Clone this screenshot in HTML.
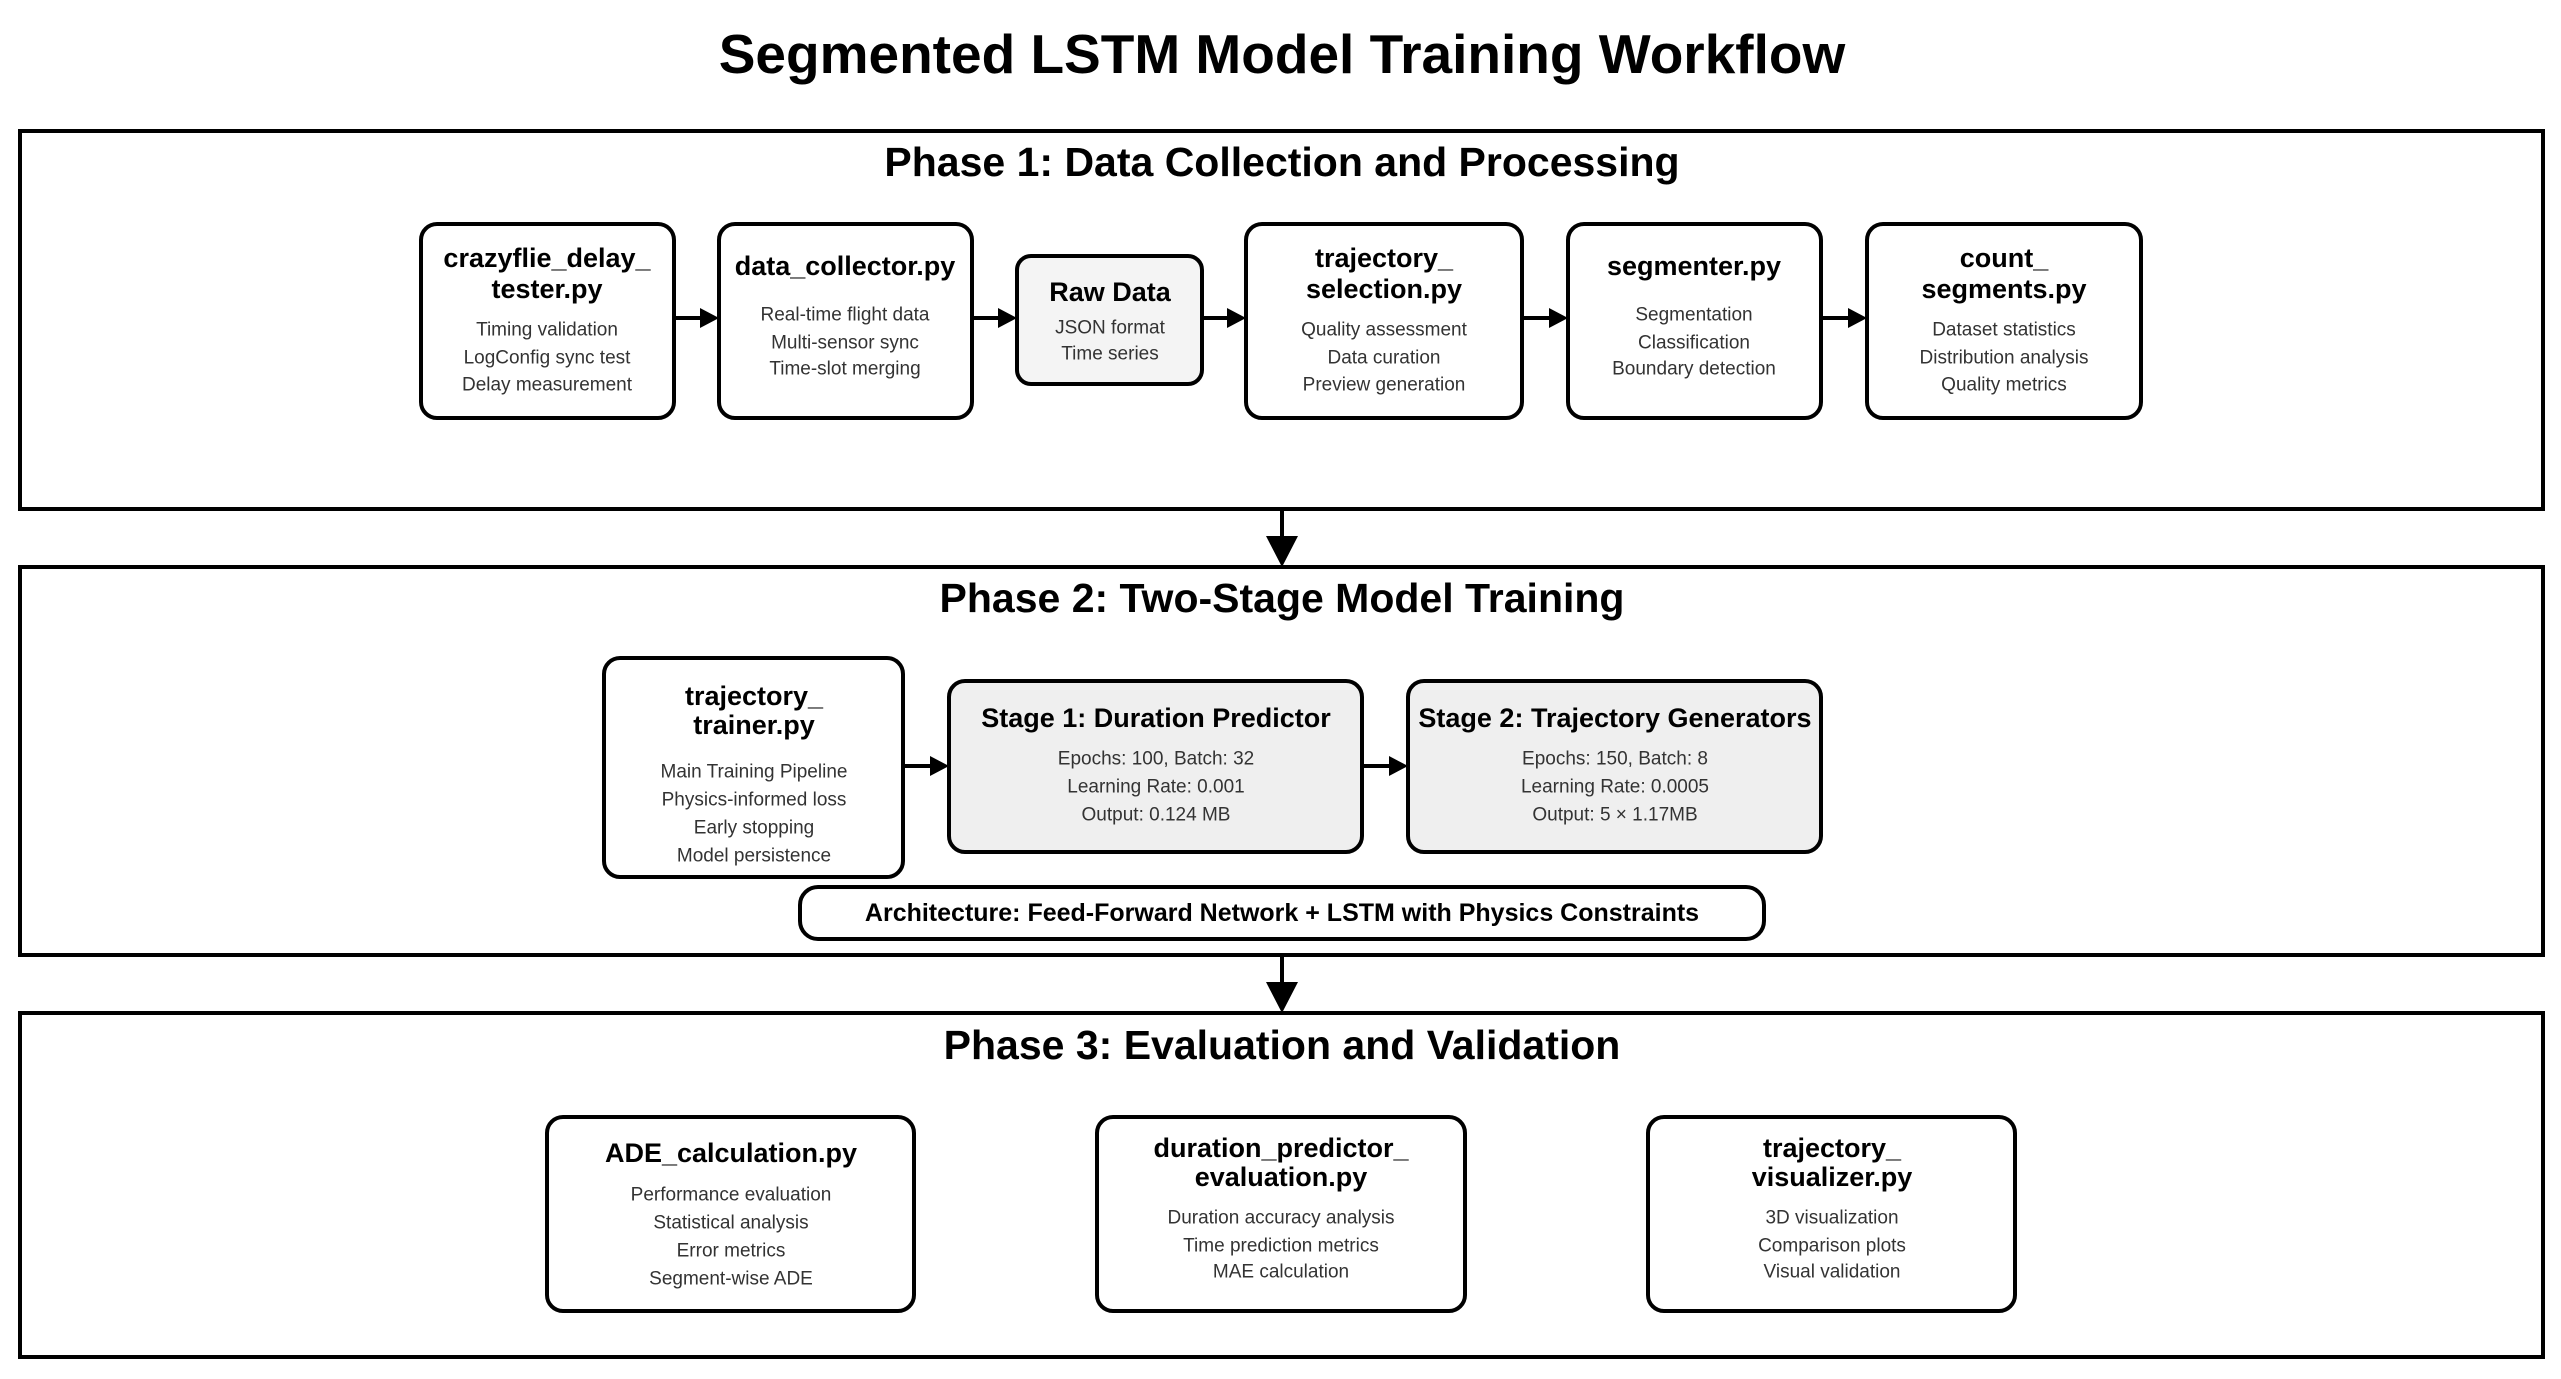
<!DOCTYPE html>
<html><head><meta charset="utf-8"><style>
html,body{margin:0;padding:0;background:#fff;}
svg{display:block;}
text{font-family:"Liberation Sans",Arial,sans-serif;text-anchor:middle;dominant-baseline:central;}
.t{font-weight:bold;font-size:27px;fill:#000;}
.d{font-size:19px;fill:#333;}
.p{font-weight:bold;font-size:41px;fill:#000;}
.n{fill:#fff;stroke:#000;stroke-width:4;}
.g{fill:#efefef;stroke:#000;stroke-width:4;}
.ph{fill:none;stroke:#000;stroke-width:4;}
.a{stroke:#000;stroke-width:4;}
</style></head><body>
<svg width="2561" height="1379" viewBox="0 0 2561 1379" xmlns="http://www.w3.org/2000/svg">
<text x="1282" y="54" style="font-weight:bold;font-size:55px">Segmented LSTM Model Training Workflow</text>

<!-- Phase 1 -->
<rect class="ph" x="20" y="131" width="2523" height="378"/>
<text class="p" x="1282" y="162">Phase 1: Data Collection and Processing</text>
<rect class="n" x="421" y="224" width="253" height="194" rx="16"/>
<text class="t" x="547" y="258">crazyflie_delay_</text><text class="t" x="547" y="289">tester.py</text>
<text class="d" x="547" y="330">Timing validation</text><text class="d" x="547" y="358">LogConfig sync test</text><text class="d" x="547" y="385">Delay measurement</text>

<rect class="n" x="719" y="224" width="253" height="194" rx="16"/>
<text class="t" x="845" y="266">data_collector.py</text>
<text class="d" x="845" y="315">Real-time flight data</text><text class="d" x="845" y="343">Multi-sensor sync</text><text class="d" x="845" y="369">Time-slot merging</text>

<rect class="g" x="1017" y="256" width="185" height="128" rx="14" style="fill:#f4f4f4"/>
<text class="t" x="1110" y="292">Raw Data</text>
<text class="d" x="1110" y="328">JSON format</text><text class="d" x="1110" y="354">Time series</text>

<rect class="n" x="1246" y="224" width="276" height="194" rx="16"/>
<text class="t" x="1384" y="258">trajectory_</text><text class="t" x="1384" y="289">selection.py</text>
<text class="d" x="1384" y="330">Quality assessment</text><text class="d" x="1384" y="358">Data curation</text><text class="d" x="1384" y="385">Preview generation</text>

<rect class="n" x="1568" y="224" width="253" height="194" rx="16"/>
<text class="t" x="1694" y="266">segmenter.py</text>
<text class="d" x="1694" y="315">Segmentation</text><text class="d" x="1694" y="343">Classification</text><text class="d" x="1694" y="369">Boundary detection</text>

<rect class="n" x="1867" y="224" width="274" height="194" rx="16"/>
<text class="t" x="2004" y="258">count_</text><text class="t" x="2004" y="289">segments.py</text>
<text class="d" x="2004" y="330">Dataset statistics</text><text class="d" x="2004" y="358">Distribution analysis</text><text class="d" x="2004" y="385">Quality metrics</text>

<g>
<line class="a" x1="674" y1="318" x2="702" y2="318"/><polygon points="700,308 719,318 700,328"/>
<line class="a" x1="972" y1="318" x2="1000" y2="318"/><polygon points="998,308 1017,318 998,328"/>
<line class="a" x1="1202" y1="318" x2="1229" y2="318"/><polygon points="1227,308 1246,318 1227,328"/>
<line class="a" x1="1522" y1="318" x2="1551" y2="318"/><polygon points="1549,308 1568,318 1549,328"/>
<line class="a" x1="1821" y1="318" x2="1850" y2="318"/><polygon points="1848,308 1867,318 1848,328"/>
</g>

<line class="a" x1="1282" y1="509" x2="1282" y2="540"/><polygon points="1266,536 1298,536 1282,567"/>

<!-- Phase 2 -->
<rect class="ph" x="20" y="567" width="2523" height="388"/>
<text class="p" x="1282" y="598">Phase 2: Two-Stage Model Training</text>
<rect class="n" x="604" y="658" width="299" height="219" rx="16"/>
<text class="t" x="754" y="696">trajectory_</text><text class="t" x="754" y="725">trainer.py</text>
<text class="d" x="754" y="772">Main Training Pipeline</text><text class="d" x="754" y="800">Physics-informed loss</text><text class="d" x="754" y="828">Early stopping</text><text class="d" x="754" y="856">Model persistence</text>

<rect class="g" x="949" y="681" width="413" height="171" rx="16"/>
<text class="t" x="1156" y="718">Stage 1: Duration Predictor</text>
<text class="d" x="1156" y="759">Epochs: 100, Batch: 32</text><text class="d" x="1156" y="787">Learning Rate: 0.001</text><text class="d" x="1156" y="815">Output: 0.124 MB</text>

<rect class="g" x="1408" y="681" width="413" height="171" rx="16"/>
<text class="t" x="1615" y="718">Stage 2: Trajectory Generators</text>
<text class="d" x="1615" y="759">Epochs: 150, Batch: 8</text><text class="d" x="1615" y="787">Learning Rate: 0.0005</text><text class="d" x="1615" y="815">Output: 5 × 1.17MB</text>

<line class="a" x1="903" y1="766" x2="932" y2="766"/><polygon points="930,756 949,766 930,776"/>
<line class="a" x1="1362" y1="766" x2="1391" y2="766"/><polygon points="1389,756 1408,766 1389,776"/>

<rect class="n" x="800" y="887" width="964" height="52" rx="18"/>
<text x="1282" y="913" style="font-weight:bold;font-size:25px">Architecture: Feed-Forward Network + LSTM with Physics Constraints</text>

<line class="a" x1="1282" y1="955" x2="1282" y2="986"/><polygon points="1266,982 1298,982 1282,1013"/>

<!-- Phase 3 -->
<rect class="ph" x="20" y="1013" width="2523" height="344"/>
<text class="p" x="1282" y="1045">Phase 3: Evaluation and Validation</text>
<rect class="n" x="547" y="1117" width="367" height="194" rx="16"/>
<text class="t" x="731" y="1153">ADE_calculation.py</text>
<text class="d" x="731" y="1195">Performance evaluation</text><text class="d" x="731" y="1223">Statistical analysis</text><text class="d" x="731" y="1251">Error metrics</text><text class="d" x="731" y="1279">Segment-wise ADE</text>

<rect class="n" x="1097" y="1117" width="368" height="194" rx="16"/>
<text class="t" x="1281" y="1148">duration_predictor_</text><text class="t" x="1281" y="1177">evaluation.py</text>
<text class="d" x="1281" y="1218">Duration accuracy analysis</text><text class="d" x="1281" y="1246">Time prediction metrics</text><text class="d" x="1281" y="1272">MAE calculation</text>

<rect class="n" x="1648" y="1117" width="367" height="194" rx="16"/>
<text class="t" x="1832" y="1148">trajectory_</text><text class="t" x="1832" y="1177">visualizer.py</text>
<text class="d" x="1832" y="1218">3D visualization</text><text class="d" x="1832" y="1246">Comparison plots</text><text class="d" x="1832" y="1272">Visual validation</text>
</svg>
</body></html>
